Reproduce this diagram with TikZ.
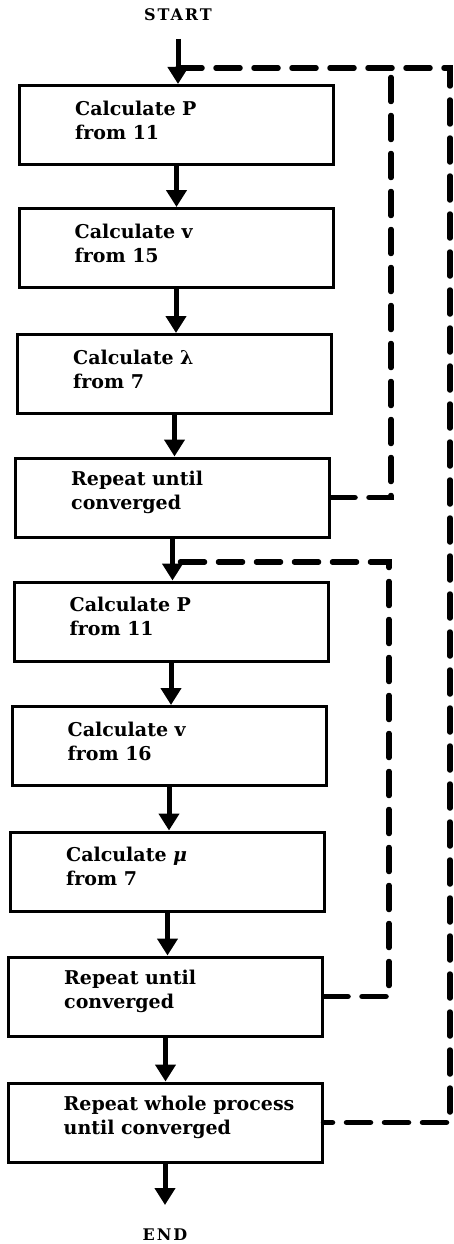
\documentclass[tikz,border=0pt]{standalone}
\usepackage{fontspec}
\setmainfont{DejaVu Serif}
\usetikzlibrary{arrows.meta,calc}
\begin{document}
\begin{tikzpicture}[x=1pt,y=-1pt,
  box/.style={draw=black,line width=3pt,minimum width=314pt,minimum height=79pt,inner sep=0pt},
  lbl/.style={anchor=west,align=left,font=\fontsize{19}{24}\selectfont\bfseries,inner sep=0pt},
  term/.style={font=\fontsize{16}{18}\selectfont\bfseries\addfontfeature{LetterSpace=12},inner sep=0pt},
  flow/.style={line width=5pt,-{Triangle[length=17pt,width=20pt]}},
  loop/.style={line width=5.5pt,line cap=round,dash pattern=on 24pt off 14pt}]
\useasboundingbox (0,0) rectangle (454,1244);
\fill[white] (0,0) rectangle (454,1244);
% boxes
\node[box] (b1) at (176.5,125) {};
\node[box] (b2) at (176,248) {};
\node[box] (b3) at (174.5,374) {};
\node[box] (b4) at (172.5,497.5) {};
\node[box] (b5) at (171,621.5) {};
\node[box] (b6) at (169,746) {};
\node[box] (b7) at (167.5,871.5) {};
\node[box] (b8) at (165.5,996.5) {};
\node[box] (b9) at (165,1122.5) {};
% labels
\node[lbl] (t1) at ($(b1.west)+(57,-5)$) {Calculate P\\from 11};
\node[lbl] (t2) at ($(b2.west)+(57,-5)$) {Calculate v\\from 15};
\node[lbl] (t3) at ($(b3.west)+(57,-5)$) {Calculate λ\\from 7};
\node[lbl] (t4) at ($(b4.west)+(57,-5)$) {Repeat until\\converged};
\node[lbl] (t5) at ($(b5.west)+(57,-5)$) {Calculate P\\from 11};
\node[lbl] (t6) at ($(b6.west)+(57,-5)$) {Calculate v\\from 16};
\node[lbl] (t7) at ($(b7.west)+(57,-5)$) {Calculate \textit{μ}\\from 7};
\node[lbl] (t8) at ($(b8.west)+(57,-5)$) {Repeat until\\converged};
\node[lbl] (t9) at ($(b9.west)+(57,-5)$) {Repeat whole process\\until converged};
% terminals
\node[term] (start) at (178,15) {START};
\node[term] (end) at (165,1235) {END};
\coordinate (s0) at (178,39);
\coordinate (e0) at (165,1205);
\coordinate (j1) at (178,68);
% flow arrows
\draw[flow] (s0) -- (s0 |- b1.north);
\draw[flow] (b1.south) -- (b1.south |- b2.north);
\draw[flow] (b2.south) -- (b2.south |- b3.north);
\draw[flow] (b3.south) -- (b3.south |- b4.north);
\draw[flow] (b4.south) -- (b4.south |- b5.north);
\draw[flow] (b5.south) -- (b5.south |- b6.north);
\draw[flow] (b6.south) -- (b6.south |- b7.north);
\draw[flow] (b7.south) -- (b7.south |- b8.north);
\draw[flow] (b8.south) -- (b8.south |- b9.north);
\draw[flow] (b9.south) -- (b9.south |- e0);
% feedback loops
\coordinate (oc1) at (450,68);
\coordinate (ic1) at (391,68);
\coordinate (ic2) at (389,562);
\coordinate (j2b) at (b4.south |- ic2);
\draw[loop] (j1) -- (oc1) -- (oc1 |- b9.east) -- (b9.east);
\draw[loop] (b4.east) -- (ic1 |- b4.east) -- (ic1);
\draw[loop] (b8.east) -- (ic2 |- b8.east) -- (ic2) -- (j2b);
\end{tikzpicture}
\end{document}
